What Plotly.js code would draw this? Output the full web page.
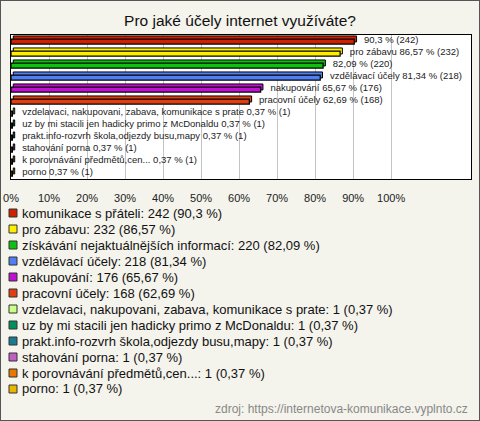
<!DOCTYPE html>
<html>
<head>
<meta charset="utf-8">
<script src="https://cdn.plot.ly/plotly-3.0.1.min.js"></script>
<style>
html,body{margin:0;padding:0;background:#f4f3ec;}
#chart{width:478px;height:419px;border:1px solid #555;}
</style>
</head>
<body>
<div id="chart"></div>
<script>
// ---- data ----
const categories = [
  "komunikace s přáteli",
  "pro zábavu",
  "získávání nejaktuálnějších informací",
  "vzdělávací účely",
  "nakupování",
  "pracovní účely",
  "vzdelavaci, nakupovani, zabava, komunikace s prate",
  "uz by mi stacili jen hadicky primo z McDonaldu",
  "prakt.info-rozvrh škola,odjezdy busu,mapy",
  "stahování porna",
  "k porovnávání předmětů,cen...",
  "porno"
];
const counts = [242, 232, 220, 218, 176, 168, 1, 1, 1, 1, 1, 1];
const percents = [90.3, 86.57, 82.09, 81.34, 65.67, 62.69, 0.37, 0.37, 0.37, 0.37, 0.37, 0.37];
const percentLabels = ["90,3", "86,57", "82,09", "81,34", "65,67", "62,69", "0,37", "0,37", "0,37", "0,37", "0,37", "0,37"];
// names shown next to bars (some are omitted in the original)
const barLabelNames = [
  "",
  "pro zábavu",
  "",
  "vzdělávací účely",
  "nakupování",
  "pracovní účely",
  "vzdelavaci, nakupovani, zabava, komunikace s prate",
  "uz by mi stacili jen hadicky primo z McDonaldu",
  "prakt.info-rozvrh škola,odjezdy busu,mapy",
  "stahování porna",
  "k porovnávání předmětů,cen...",
  "porno"
];
const barColors = ["#cc2200", "#ffee00", "#10c010", "#4f7ff0", "#c010d0", "#e04010", "#ccff88", "#009060", "#1a7a90", "#c060c0", "#e87800", "#e8b800"];
const tickVals = [0, 10, 20, 30, 40, 50, 60, 70, 80, 90, 100];
const tickText = ["0%", "10%", "20%", "30%", "40%", "50%", "60%", "70%", "80%", "90%", "100%"];
const titleText = "Pro jaké účely internet využíváte?";
const sourceText = "zdroj: https://internetova-komunikace.vyplnto.cz";

// ---- geometry (div pixels) ----
const W = 478, H = 419;
const mL = 10, mR = 8, mT = 34, mB = 241;
const plotW = W - mL - mR, plotH = H - mT - mB;
const pxX = x => (x - mL) / plotW;
const pxY = y => (H - mB - y) / plotH;

const idx = categories.map((_, i) => i);
const labels = idx.map(i => (barLabelNames[i] ? barLabelNames[i] + " " : "") + percentLabels[i] + " % (" + counts[i] + ")");

const depth = {
  type: "bar", orientation: "h",
  x: percents, y: idx, base: 0.6,
  width: 0.5, offset: -0.42,
  marker: {color: barColors, line: {color: "#000", width: 1}},
  hoverinfo: "skip", showlegend: false
};
const bars = {
  type: "bar", orientation: "h",
  x: percents, y: idx,
  width: 0.42, offset: -0.16,
  marker: {color: barColors, line: {color: "#000", width: 1.2}},
  hoverinfo: "skip", showlegend: false
};
const text = {
  type: "scatter", mode: "markers+text",
  x: percents, y: idx,
  marker: {size: 14, opacity: 0},
  text: labels, textposition: "middle right",
  textfont: {family: "Liberation Sans, Arial, sans-serif", size: 9.5, color: "#222"},
  cliponaxis: false, hoverinfo: "skip", showlegend: false
};

const annotations = [];
const shapes = [];
categories.forEach((c, i) => {
  const yc = 212 + i * 16;
  shapes.push({type: "rect", xref: "paper", yref: "paper",
    x0: pxX(8), x1: pxX(16), y0: pxY(yc - 4), y1: pxY(yc + 4),
    fillcolor: barColors[i], line: {color: "#333", width: 1}});
  annotations.push({xref: "paper", yref: "paper", x: pxX(19), y: pxY(yc),
    xanchor: "left", yanchor: "middle", showarrow: false,
    text: c + ": " + counts[i] + " (" + percentLabels[i] + " %)",
    font: {family: "Liberation Sans, Arial, sans-serif", size: 13, color: "#111"}});
});
annotations.push({xref: "paper", yref: "paper", x: pxX(469), y: pxY(408),
  xanchor: "right", yanchor: "middle", showarrow: false, text: sourceText,
  font: {family: "Liberation Sans, Arial, sans-serif", size: 12, color: "#888"}});

const layout = {
  width: W, height: H,
  margin: {l: mL, r: mR, t: mT, b: mB},
  paper_bgcolor: "#f4f3ec", plot_bgcolor: "#ffffff",
  title: {text: titleText, x: 0.5, xanchor: "center", y: 1 - 20 / H, yanchor: "middle",
    font: {family: "Liberation Sans, Arial, sans-serif", size: 15.5, color: "#111"}},
  xaxis: {range: [0, 121], tickvals: tickVals, ticktext: tickText,
    showgrid: true, gridcolor: "#c4c4c4", gridwidth: 1, zeroline: false,
    showline: true, linecolor: "#000", linewidth: 1, mirror: true,
    ticks: "", ticklabelstandoff: 9,
    tickfont: {family: "Liberation Sans, Arial, sans-serif", size: 11, color: "#222"},
    fixedrange: true},
  yaxis: {range: [11.5, -0.5], showticklabels: false, showgrid: false, zeroline: false,
    showline: true, linecolor: "#000", linewidth: 1, mirror: true, ticks: "", fixedrange: true},
  barmode: "overlay", bargap: 0,
  shapes: shapes, annotations: annotations,
  showlegend: false,
  font: {family: "Liberation Sans, Arial, sans-serif"}
};

Plotly.newPlot("chart", [depth, bars, text], layout, {displayModeBar: false, staticPlot: true});
</script>
</body>
</html>
